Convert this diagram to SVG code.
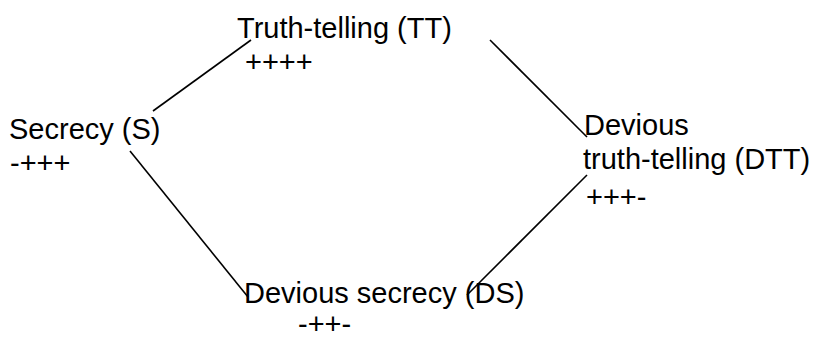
<svg xmlns="http://www.w3.org/2000/svg" width="817" height="340" viewBox="0 0 817 340">
  <style>
    .lbl { font-family: "Liberation Sans", Arial, sans-serif; font-size: 29px; fill: #000; }
    .edge { stroke: #000; stroke-width: 1.6; fill: none; }
  </style>
  <rect width="817" height="340" fill="#fff"/>
  <g id="connectors">
    <line class="edge" x1="251" y1="40" x2="153" y2="111"/>
    <line class="edge" x1="130" y1="151" x2="248" y2="297"/>
    <line class="edge" x1="490" y1="40" x2="587" y2="137"/>
    <line class="edge" x1="587" y1="175" x2="467" y2="295"/>
  </g>
  <g id="node-tt">
    <text class="lbl" x="237" y="38">Truth-telling (TT)</text>
    <text class="lbl" x="245" y="72">++++</text>
  </g>
  <g id="node-s">
    <text class="lbl" x="9" y="139">Secrecy (S)</text>
    <text class="lbl" x="10" y="173">-+++</text>
  </g>
  <g id="node-dtt">
    <text class="lbl" x="584" y="135">Devious</text>
    <text class="lbl" x="583" y="169">truth-telling (DTT)</text>
    <text class="lbl" x="586" y="207">+++-</text>
  </g>
  <g id="node-ds">
    <text class="lbl" x="244" y="303">Devious secrecy (DS)</text>
    <text class="lbl" x="298" y="334">-++-</text>
  </g>
</svg>
